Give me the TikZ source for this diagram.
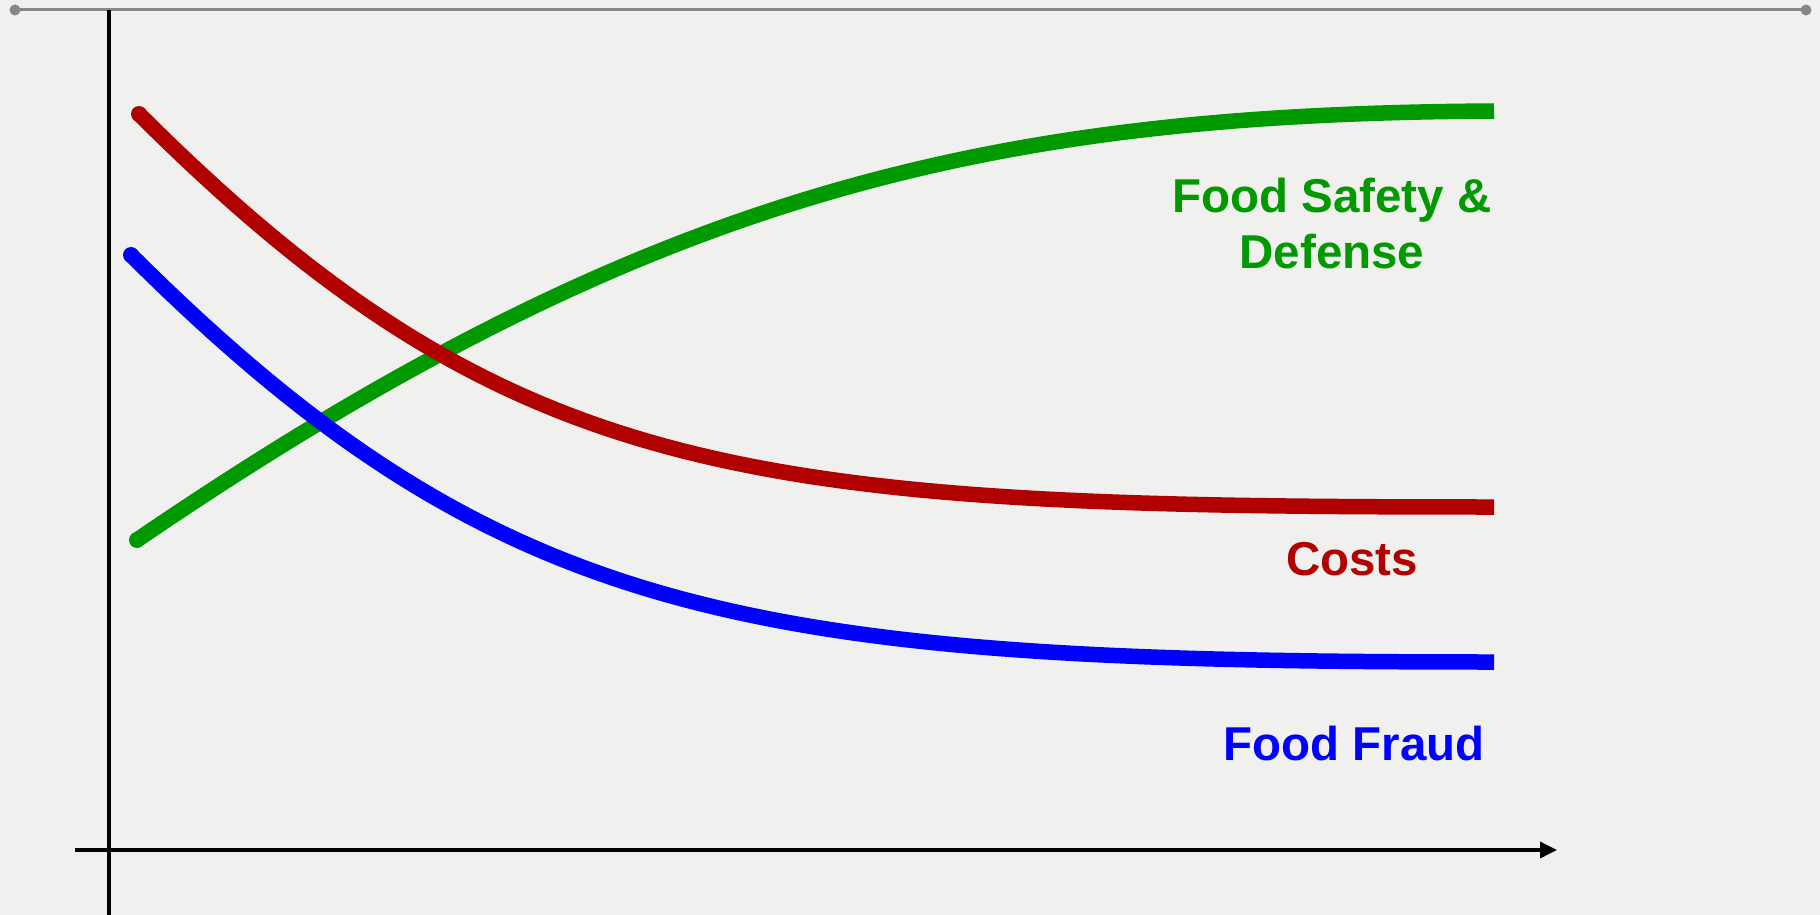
\documentclass[tikz,border=0pt]{standalone}
\usepackage{fontspec}
\setmainfont{Liberation Sans}
\usetikzlibrary{arrows.meta}
\definecolor{bg}{RGB}{240,240,238}
\definecolor{fsgreen}{RGB}{0,153,0}
\definecolor{costred}{RGB}{176,0,0}
\definecolor{fraudblue}{RGB}{0,0,255}
\definecolor{topgray}{RGB}{135,135,135}
\begin{document}
\begin{tikzpicture}[x=1pt,y=-1pt,
  curve/.style={line width=15.5pt},
  lbl/.style={font=\fontsize{47.5}{56}\selectfont\bfseries, inner sep=0pt, anchor=base},
  axisline/.style={line width=3.5pt, black}]
\fill[bg] (0,0) rectangle (1820,915);
\useasboundingbox (0,0) rectangle (1820,915);
% top rule
\coordinate (tl) at (15,10);
\coordinate (tr) at (1806,10);
\draw[topgray, line width=3pt] (tl) -- (tr);
\fill[topgray] (tl) circle (5.5pt);
\fill[topgray] (tr) circle (5.5pt);
% axes
\coordinate (yT) at (109,10);
\coordinate (yB) at (109,915);
\coordinate (xL) at (75,850);
\coordinate (xR) at (1557,850);
\draw[axisline] (yT) -- (yB);
\draw[axisline, -{Triangle[length=17pt,width=16pt]}] (xL) -- (xR);
% curves
\coordinate (gS) at (137,540);
\coordinate (gE) at (1494,111);
\coordinate (rS) at (139,114);
\coordinate (rE) at (1494,507);
\coordinate (bS) at (131,255);
\coordinate (bE) at (1494,662);
\draw[curve, fsgreen] (gS) .. controls (650,190) and (990,114) .. (gE);
\fill[fsgreen] (gS) circle (8pt);
\draw[curve, costred] (rS) .. controls (510,484) and (750,507) .. (rE);
\fill[costred] (rS) circle (8pt);
\draw[curve, fraudblue] (bS) .. controls (500,622) and (750,662) .. (bE);
\fill[fraudblue] (bS) circle (8pt);
% labels
\node[lbl, text=fsgreen] (fs1) at (1332,212) {Food Safety \&};
\node[lbl, text=fsgreen] (fs2) at (1332,268) {Defense};
\node[lbl, text=costred] (costs) at (1352,575) {Costs};
\node[lbl, text=fraudblue] (fraud) at (1354,760) {Food Fraud};
\end{tikzpicture}
\end{document}
